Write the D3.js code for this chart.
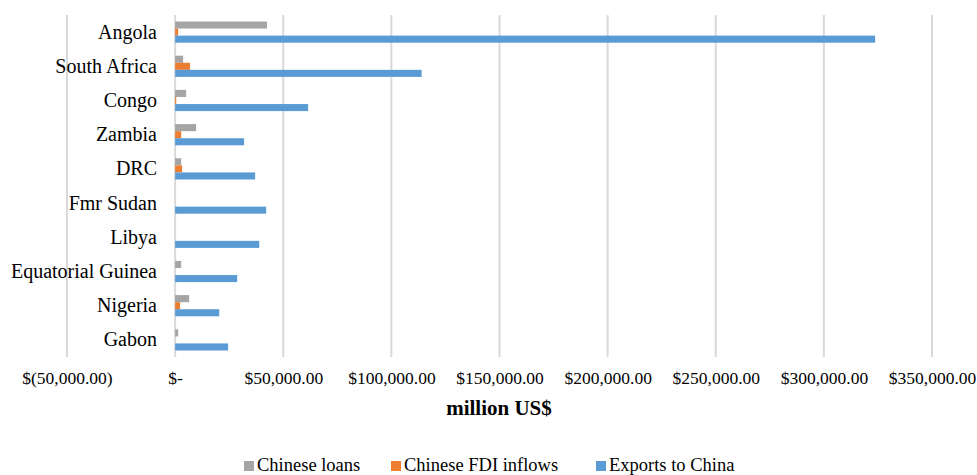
<!DOCTYPE html>
<html>
<head>
<meta charset="utf-8">
<script src="https://cdn.jsdelivr.net/npm/d3@7/dist/d3.min.js"></script>
<style>
  html, body { margin: 0; padding: 0; background: #fff; }
  svg { display: block; }
</style>
</head>
<body>
<svg id="chart" width="977" height="475"></svg>
<script>
// Countries, top to bottom
const countries = ["Angola", "South Africa", "Congo", "Zambia", "DRC", "Fmr Sudan",
                   "Libya", "Equatorial Guinea", "Nigeria", "Gabon"];

// Values in million US$
const chineseLoans     = [42500, 3700, 5100, 9700, 2800, 0, 0, 2800, 6500, 1400];
const chineseFDI       = [1400, 6900, 500, 2800, 3200, 0, 0, 0, 2300, 0];
const exportsToChina   = [323700, 114000, 61500, 31900, 37000, 42100, 38900, 28700, 20400, 24500];

const seriesNames = ["Chinese loans", "Chinese FDI inflows", "Exports to China"];
const seriesColors = ["#a5a5a5", "#ed7d31", "#5b9bd5"];
const xTicks = [-50000, 0, 50000, 100000, 150000, 200000, 250000, 300000, 350000];
const xTitle = "million US$";

const seriesValues = [chineseLoans, chineseFDI, exportsToChina];
const FONT = "'Liberation Serif', Tinos, 'Times New Roman', serif";

const svg = d3.select("#chart").style("font-family", FONT);
const plot = { left: 67, right: 932, top: 15, bottom: 357 };

const x = d3.scaleLinear().domain([-50000, 350000]).range([plot.left, plot.right]);
const y = d3.scaleBand().domain(countries).range([plot.top, plot.bottom]).paddingInner(0.38).paddingOuter(0.19);
const ySub = d3.scaleBand().domain(seriesNames).range([0, y.bandwidth()]);

const money = d3.format(",.2f");
const fmt = v => v === 0 ? "$-" : (v < 0 ? "$(" + money(-v) + ")" : "$" + money(v));

// Vertical gridlines
svg.append("g")
  .selectAll("line")
  .data(xTicks)
  .join("line")
  .attr("x1", d => x(d)).attr("x2", d => x(d))
  .attr("y1", plot.top).attr("y2", plot.bottom)
  .attr("stroke", "#d9d9d9")
  .attr("stroke-width", 2);

// Bars
const groups = svg.append("g")
  .selectAll("g")
  .data(countries)
  .join("g")
  .attr("transform", d => `translate(0,${y(d)})`);

groups.selectAll("rect")
  .data((c, i) => seriesNames.map((s, k) => ({ s, k, v: seriesValues[k][i] })))
  .join("rect")
  .filter(d => d.v > 0)
  .attr("x", d => x(0))
  .attr("y", d => ySub(d.s))
  .attr("width", d => x(d.v) - x(0))
  .attr("height", ySub.bandwidth())
  .attr("fill", d => seriesColors[d.k]);

// Category labels
const yAxis = d3.axisLeft(y).tickSize(0).tickPadding(0);
const yg = svg.append("g").attr("transform", `translate(157,0)`).call(yAxis)
  .attr("font-family", null).attr("font-size", null);
yg.select(".domain").remove();
yg.selectAll("text").attr("font-size", 20).attr("dy", "0.32em")
  .attr("fill", "#000").style("font-family", FONT);

// Value axis labels
const xAxis = d3.axisBottom(x).tickValues(xTicks).tickFormat(fmt).tickSize(0).tickPadding(0);
const xg = svg.append("g").attr("transform", `translate(0,384)`).call(xAxis)
  .attr("font-family", null).attr("font-size", null);
xg.select(".domain").remove();
xg.selectAll("text").attr("font-size", 17.5).attr("dy", 0)
  .attr("fill", "#000").style("font-family", FONT);

// Axis title
svg.append("text")
  .attr("x", 499).attr("y", 415)
  .attr("text-anchor", "middle")
  .attr("font-size", 21).attr("font-weight", "bold")
  .attr("fill", "#000")
  .style("font-family", FONT)
  .text(xTitle);

// Legend
const legendTextX = [257, 404, 609];
const legend = svg.append("g")
  .selectAll("g")
  .data(seriesNames)
  .join("g")
  .attr("transform", (d, i) => `translate(${legendTextX[i]},471)`);
legend.append("rect")
  .attr("x", -13).attr("y", -10).attr("width", 10).attr("height", 10)
  .attr("fill", (d, i) => seriesColors[i]);
legend.append("text")
  .attr("x", 0).attr("y", 0)
  .attr("font-size", 18.5)
  .attr("fill", "#000")
  .style("font-family", FONT)
  .text(d => d);
</script>
</body>
</html>
